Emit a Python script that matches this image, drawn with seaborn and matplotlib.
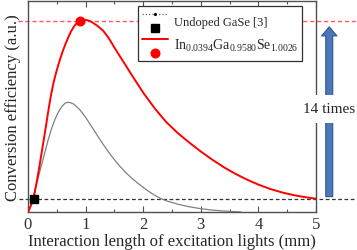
import numpy as np
import pandas as pd
import seaborn as sns
import matplotlib
matplotlib.use('Agg')
import matplotlib.pyplot as plt
from matplotlib.lines import Line2D
from matplotlib.legend_handler import HandlerBase

# values (y in units of the undoped GaSe level at L=0.1 mm)
doped_x = [0, 0.05, 0.1, 0.15, 0.2, 0.25, 0.3, 0.35, 0.4, 0.45, 0.5, 0.55, 0.6, 0.65,
           0.7, 0.75, 0.8, 0.85, 0.9, 0.95, 1.0, 1.05, 1.1, 1.2, 1.3, 1.4, 1.5, 1.6,
           1.7, 1.8, 1.9, 2.0, 2.2, 2.4, 2.6, 2.8, 3.0, 3.2, 3.4, 3.6, 3.8, 4.0, 4.2,
           4.4, 4.6, 4.8, 5.0]
doped_y = [0, 0.5, 1.1, 2.2, 3.4, 4.7, 6.0, 7.35, 8.6, 9.6, 10.4, 11.1, 11.75, 12.3,
           12.8, 13.25, 13.6, 13.85, 14.0, 14.07, 14.07, 14.02, 13.93, 13.65, 13.3,
           12.75, 12.05, 11.38, 10.72, 10.05, 9.4, 8.75, 7.6, 6.6, 5.8, 5.1, 4.45, 3.85,
           3.3, 2.82, 2.4, 2.03, 1.72, 1.47, 1.27, 1.12, 1.0]

undoped_x = [0, 0.05, 0.1, 0.15, 0.2, 0.25, 0.3, 0.35, 0.4, 0.45, 0.5, 0.55, 0.6, 0.65,
             0.7, 0.75, 0.8, 0.9, 1.0, 1.1, 1.2, 1.3, 1.4, 1.5, 1.6, 1.7, 1.8, 1.9,
             2.0, 2.1, 2.2, 2.3, 2.4, 2.6, 2.8, 3.0, 3.2, 3.4, 3.7]
undoped_y = [0, 0.6, 1.3, 2.1, 2.9, 3.7, 4.5, 5.3, 6.0, 6.6, 7.1, 7.5, 7.8, 8.0,
             8.05, 8.0, 7.9, 7.5, 6.95, 6.3, 5.65, 5.0, 4.4, 3.85, 3.35, 2.9, 2.5, 2.15,
             1.83, 1.52, 1.25, 1.02, 0.85, 0.6, 0.41, 0.27, 0.17, 0.1, 0.03]

peak_point = (0.9, 14.0)
ref_point = (0.1, 1.0)
ratio_label = '14 times'

doped = pd.DataFrame({'L': doped_x, 'eta': doped_y})
undoped = pd.DataFrame({'L': undoped_x, 'eta': undoped_y})

sns.set_style('ticks')
plt.rcParams['font.family'] = ['Liberation Serif', 'DejaVu Serif']
plt.rcParams['mathtext.fontset'] = 'custom'
plt.rcParams['mathtext.rm'] = 'Liberation Serif'
plt.rcParams['mathtext.it'] = 'Liberation Serif:italic'

spine_col = '#505050'

fig = plt.figure(figsize=(3.57, 2.51), dpi=100)
ax = fig.add_axes([28 / 357, 1 - 212.7 / 251, 288 / 357, 210.7 / 251])

sns.lineplot(data=undoped, x='L', y='eta', ax=ax, color='#808080', lw=0.9, zorder=3)
sns.lineplot(data=doped, x='L', y='eta', ax=ax, color='red', lw=1.4, zorder=4)

# reference levels
ax.axhline(peak_point[1], xmin=-0.035, xmax=1.15, color='#ff5a5a', lw=1.0,
           ls=(0, (3, 2)), clip_on=False, zorder=2)
ax.axhline(ref_point[1], xmin=-0.03, xmax=1.15, color='#333333', lw=0.9,
           ls=(0, (3, 2)), clip_on=False, zorder=2)

ax.plot(*ref_point, marker='s', ms=5.2, color='black', ls='none', zorder=5)
ax.plot(*peak_point, marker='o', ms=6.2, color='red', ls='none', zorder=5)

# arrow and ratio text on the right
ax.annotate('', xy=(5.23, 13.56), xytext=(5.23, 1.15), xycoords='data',
            annotation_clip=False, zorder=4,
            arrowprops=dict(arrowstyle='simple,head_length=0.65,head_width=1.1,tail_width=0.5',
                            fc='#4a78b8', ec='#2e5590', lw=0.8, shrinkA=0, shrinkB=0))
ax.text(5.23, 7.57, ratio_label, ha='center', va='center', fontsize=11, clip_on=False,
        zorder=6, bbox=dict(boxstyle='square,pad=0.5', fc='white', ec='none'))

ax.set_xlim(0, 5)
ax.set_ylim(0.05, 15.45)
ax.set_yticks([])
ax.set_xticks([0, 1, 2, 3, 4, 5])
ax.set_xticks(np.arange(0.5, 5, 1), minor=True)
ax.tick_params(axis='x', which='both', direction='in', top=True, colors='#303030',
               labelsize=12, pad=3)
ax.tick_params(axis='x', which='major', length=4, width=0.8, color=spine_col)
ax.tick_params(axis='x', which='minor', length=2.5, width=0.8, color=spine_col)
for s in ax.spines.values():
    s.set_visible(True)
    s.set_color(spine_col)
    s.set_linewidth(1.0)
ax.set_xlabel('Interaction length of excitation lights (mm)', fontsize=12, labelpad=1)
ax.set_ylabel('Conversion efficiency (a.u.)', fontsize=12, labelpad=5)


class PairHandler(HandlerBase):
    # line on top, marker below, label centred between them
    def create_artists(self, legend, orig_handle, xdescent, ydescent, width, height,
                       fontsize, trans):
        line, mark = orig_handle
        x0 = -xdescent
        yt = -ydescent + height * 0.8
        yb = -ydescent + height * 0.2
        ln = Line2D([x0, x0 + width], [yt, yt], color=line.get_color(),
                    linestyle=line.get_linestyle(), linewidth=line.get_linewidth(),
                    transform=trans)
        arts = [ln]
        if line.get_marker() not in (None, 'None', 'none', ''):
            arts.append(Line2D([x0 + width / 2], [yt], marker=line.get_marker(),
                               ms=line.get_markersize(), color='black', ls='none',
                               transform=trans))
        mk = Line2D([x0 + width / 2], [yb], marker=mark.get_marker(),
                    ms=mark.get_markersize(), color=mark.get_color(), ls='none',
                    transform=trans)
        arts.append(mk)
        return arts


h_undoped = (Line2D([], [], color='#606060', ls=':', lw=0.9, marker='.', ms=2.5),
             Line2D([], [], color='black', marker='s', ms=5.2, ls='none'))
h_doped = (Line2D([], [], color='red', ls='-', lw=1.4),
           Line2D([], [], color='red', marker='o', ms=6.2, ls='none'))
leg = ax.legend([h_undoped, h_doped],
                ['Undoped GaSe [3]', r'In$_{0.0394}$Ga$_{0.9580}$Se$_{1.0026}$'],
                handler_map={tuple: PairHandler()}, loc='upper left',
                bbox_to_anchor=(0.383, 0.976), borderaxespad=0, fontsize=8,
                handlelength=2.3, handleheight=2.75, handletextpad=0.55,
                labelspacing=0.2, borderpad=0.35, fancybox=False, framealpha=1,
                edgecolor='#303030')
leg.get_texts()[0].set_fontsize(9)
leg.get_texts()[1].set_fontsize(10)
leg.get_frame().set_linewidth(0.9)
leg.set_zorder(7)

fig.savefig('out.png', dpi=100)
